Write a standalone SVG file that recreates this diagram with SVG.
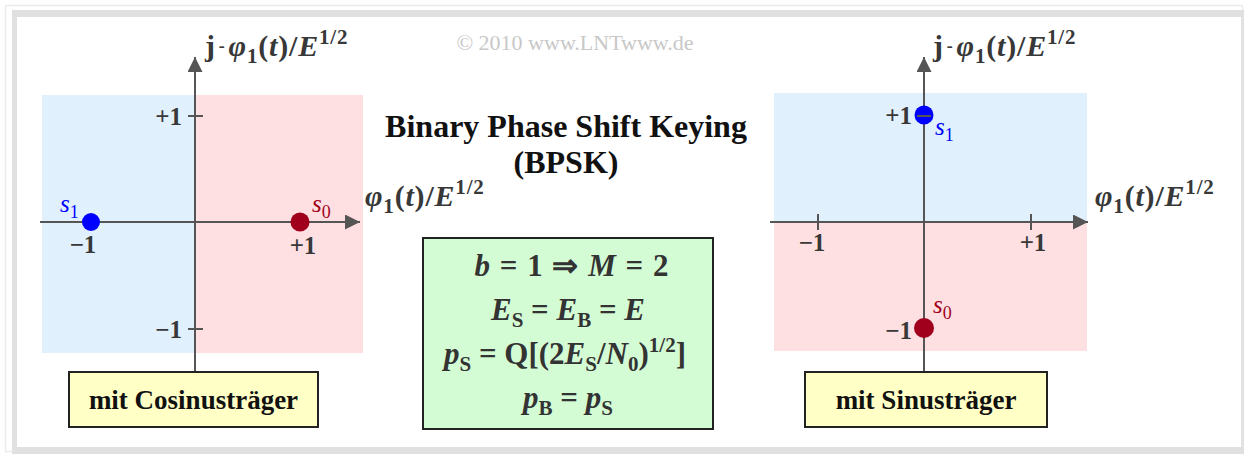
<svg xmlns="http://www.w3.org/2000/svg" width="1244" height="454" viewBox="0 0 1244 454">
<style>
.ser{font-family:"Liberation Serif","Times New Roman",serif}
.lbl{font-family:"Liberation Serif","Times New Roman",serif;font-weight:bold;fill:#383838}
.it{font-style:italic}
.axis{stroke:#555;stroke-width:2;fill:none}
.box{stroke:#222;stroke-width:2}
.bt{font-family:"Liberation Serif","Times New Roman",serif;font-weight:bold;font-size:27px;fill:#111;text-anchor:middle}
.f{font-family:"Liberation Serif","Times New Roman",serif;font-weight:bold;font-size:31px;fill:#333;text-anchor:middle}
.tk{font-size:25px}
.al{font-size:30px;letter-spacing:0.8px}
.sb{font-size:21px}
</style>
<defs>
<marker id="ah" viewBox="0 0 10 10" refX="10" refY="5" markerWidth="7.5" markerHeight="7.5" orient="auto" markerUnits="strokeWidth">
<path d="M0,0 L10,5 L0,10 z" fill="#555"/>
</marker>
</defs>
<!-- frame -->
<rect x="5.5" y="5.5" width="1237" height="446" fill="none" stroke="#ececec" stroke-width="1.5"/>
<rect x="12" y="10" width="1232" height="444" fill="#e0e0e0"/>
<rect x="17" y="17" width="1224" height="430" fill="#fff"/>
<rect x="1241" y="17" width="1.5" height="430" fill="#e4e4e4"/>

<text class="ser" x="575" y="50" font-size="22" fill="#c8c8c8" text-anchor="middle">© 2010 www.LNTwww.de</text>

<g id="title">
<text class="ser" x="566" y="137" font-size="32" font-weight="bold" fill="#111" text-anchor="middle">Binary Phase Shift Keying</text>
<text class="ser" x="566" y="173" font-size="32" font-weight="bold" fill="#111" text-anchor="middle">(BPSK)</text>
</g>

<!-- left plot -->
<g id="left-plot">
<rect x="42" y="95" width="153" height="258" fill="#e0f0fc"/>
<rect x="195" y="95" width="168" height="258" fill="#ffe0e2"/>
</g>

<!-- right plot -->
<g id="right-plot">
<rect x="774" y="93" width="313" height="129" fill="#e0f0fc"/>
<rect x="774" y="222" width="313" height="129" fill="#ffe0e2"/>
</g>

<g id="connectors">
<line class="axis" x1="195" y1="372" x2="195" y2="57" marker-end="url(#ah)"/>
<line class="axis" x1="40" y1="222" x2="360" y2="222" marker-end="url(#ah)"/>
<line class="axis" x1="188" y1="116" x2="203" y2="116"/>
<line class="axis" x1="188" y1="329" x2="203" y2="329"/>
<line class="axis" x1="924" y1="372" x2="924" y2="57" marker-end="url(#ah)"/>
<line class="axis" x1="770" y1="222" x2="1088" y2="222" marker-end="url(#ah)"/>
<line class="axis" x1="818" y1="214" x2="818" y2="230"/>
<line class="axis" x1="1031" y1="214" x2="1031" y2="230"/>
</g>

<g id="left-points">
<circle cx="91" cy="222" r="9" fill="#0000ff"/>
<circle cx="300" cy="222" r="9.5" fill="#a0001c"/>
<text class="ser it" x="60" y="212" font-size="25" fill="#0000ff">s<tspan font-style="normal" font-size="18" dy="6">1</tspan></text>
<text class="ser it" x="312" y="212" font-size="25" fill="#a0001c">s<tspan font-style="normal" font-size="18" dy="6">0</tspan></text>
<text class="lbl tk" x="83" y="253" text-anchor="middle">−1</text>
<text class="lbl tk" x="303" y="254" text-anchor="middle">+1</text>
<text class="lbl tk" x="182" y="125" text-anchor="end">+1</text>
<text class="lbl tk" x="182" y="338" text-anchor="end">−1</text>
<text class="lbl al" x="205" y="56">j<tspan font-size="18" dx="3" dy="-4">-</tspan><tspan class="it" dx="3" dy="4">φ</tspan><tspan class="sb" dy="7">1</tspan><tspan dy="-7">(</tspan><tspan class="it">t</tspan>)/<tspan class="it">E</tspan><tspan class="sb" dy="-12">1/2</tspan></text>
<text class="lbl al" x="365" y="206"><tspan class="it">φ</tspan><tspan class="sb" dy="7">1</tspan><tspan dy="-7">(</tspan><tspan class="it">t</tspan>)/<tspan class="it">E</tspan><tspan class="sb" dy="-12">1/2</tspan></text>
</g>

<g id="right-points">
<circle cx="924" cy="115" r="9.5" fill="#0000ff"/>
<line class="axis" x1="917" y1="116" x2="931" y2="116"/>
<circle cx="924" cy="328" r="10" fill="#a0001c"/>
<text class="ser it" x="935" y="135" font-size="25" fill="#0000ff">s<tspan font-style="normal" font-size="18" dy="6">1</tspan></text>
<text class="ser it" x="933" y="313" font-size="25" fill="#a0001c">s<tspan font-style="normal" font-size="18" dy="6">0</tspan></text>
<text class="lbl tk" x="912" y="124" text-anchor="end">+1</text>
<text class="lbl tk" x="912" y="339" text-anchor="end">−1</text>
<text class="lbl tk" x="812" y="251" text-anchor="middle">−1</text>
<text class="lbl tk" x="1033" y="251" text-anchor="middle">+1</text>
<text class="lbl al" x="933" y="56">j<tspan font-size="18" dx="3" dy="-4">-</tspan><tspan class="it" dx="3" dy="4">φ</tspan><tspan class="sb" dy="7">1</tspan><tspan dy="-7">(</tspan><tspan class="it">t</tspan>)/<tspan class="it">E</tspan><tspan class="sb" dy="-12">1/2</tspan></text>
<text class="lbl al" x="1095" y="206"><tspan class="it">φ</tspan><tspan class="sb" dy="7">1</tspan><tspan dy="-7">(</tspan><tspan class="it">t</tspan>)/<tspan class="it">E</tspan><tspan class="sb" dy="-12">1/2</tspan></text>
</g>

<g id="box-cos">
<rect class="box" x="69" y="372" width="249" height="55" fill="#ffffc6"/>
<text class="bt" x="193.5" y="409">mit Cosinusträger</text>
</g>

<g id="box-sin">
<rect class="box" x="805" y="372" width="242" height="55" fill="#ffffc6"/>
<text class="bt" x="926" y="409">mit Sinusträger</text>
</g>

<g id="box-formulas">
<rect class="box" x="423" y="238" width="290" height="191" fill="#d4fcd4"/>
<text class="f" x="572" y="276" letter-spacing="1"><tspan class="it">b</tspan> = 1 ⇒  <tspan class="it">M</tspan> = 2</text>
<text class="f" x="568" y="320"><tspan class="it">E</tspan><tspan font-size="21" dy="7">S</tspan><tspan dy="-7"> = </tspan><tspan class="it">E</tspan><tspan font-size="21" dy="7">B</tspan><tspan dy="-7"> = </tspan><tspan class="it">E</tspan></text>
<text class="f" x="565" y="364"><tspan class="it">p</tspan><tspan font-size="21" dy="7">S</tspan><tspan dy="-7"> = Q[(2</tspan><tspan class="it">E</tspan><tspan font-size="21" dy="7">S</tspan><tspan dy="-7">/</tspan><tspan class="it">N</tspan><tspan font-size="21" dy="7">0</tspan><tspan dy="-7">)</tspan><tspan font-size="21" dy="-12">1/2</tspan><tspan dy="12">]</tspan></text>
<text class="f" x="568" y="408"><tspan class="it">p</tspan><tspan font-size="21" dy="7">B</tspan><tspan dy="-7"> = </tspan><tspan class="it">p</tspan><tspan font-size="21" dy="7">S</tspan></text>
</g>
</svg>
